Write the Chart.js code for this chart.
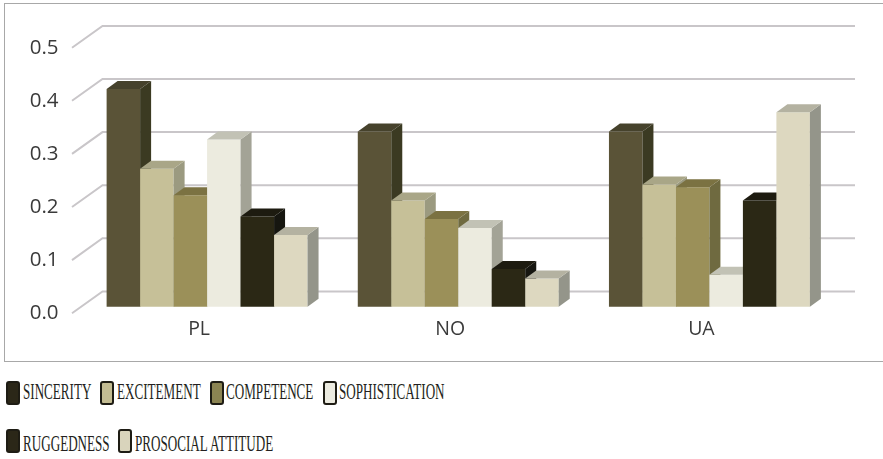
<!DOCTYPE html>
<html>
<head>
<meta charset="utf-8">
<script src="https://cdn.jsdelivr.net/npm/chart.js@4.4.1/dist/chart.umd.min.js"></script>
<style>
  html, body { margin: 0; padding: 0; background: #ffffff; }
  #wrap { position: relative; width: 883px; height: 459px; overflow: hidden; background: #fff; }
  #frame { position: absolute; left: 4px; top: 3px; width: 884px; height: 358.5px;
           border: 1.5px solid #a8a8a8; box-sizing: border-box; }
  #chart { position: absolute; left: 0; top: 0; }
  .lg-box { position: absolute; width: 14px; height: 24px; box-sizing: border-box;
            border: 2px solid #1e1c14; border-radius: 3px; }
  .lg-text { position: absolute; white-space: nowrap; font-family: "Liberation Serif", "Times New Roman", serif;
             font-size: 22.6px; line-height: 1; color: #231f20; transform: scaleX(0.58);
             transform-origin: 0 0; }
</style>
</head>
<body>
<div id="wrap">
  <div id="frame"></div>
  <canvas id="chart" width="883" height="365"></canvas>
  <div id="legend"></div>
</div>
<script>
// Country groups and brand-personality dimensions
const categories = ['PL', 'NO', 'UA'];
const seriesNames = ['SINCERITY', 'EXCITEMENT', 'COMPETENCE', 'SOPHISTICATION', 'RUGGEDNESS', 'PROSOCIAL ATTITUDE'];

const sincerity      = [0.41, 0.33, 0.33];
const excitement     = [0.26, 0.20, 0.23];
const competence     = [0.21, 0.165, 0.225];
const sophistication = [0.315, 0.148, 0.06];
const ruggedness     = [0.17, 0.071, 0.20];
const prosocial      = [0.135, 0.053, 0.366];

const yTicks = [0, 0.1, 0.2, 0.3, 0.4, 0.5];

// Face colours: front, top, side for each series, plus legend swatch
const frontColors  = ['#5a5337', '#c6c098', '#9b9059', '#ecebdf', '#2b2815', '#ddd8c0'];
const topColors    = ['#46422c', '#a9a687', '#7b7242', '#c2c2b5', '#1d1b10', '#b4b2a1'];
const sideColors   = ['#3b3a22', '#9b9a80', '#6f6a40', '#a3a396', '#161610', '#94958a'];
const legendColors = ['#2b2718', '#c3bc92', '#8b8452', '#ecebe0', '#2b2718', '#d9d4bc'];

const seriesValues = [sincerity, excitement, competence, sophistication, ruggedness, prosocial];

// Depth offset of the 3D bars and of the floor/back wall
const BAR_DX = 11, BAR_DY = -8;
const WALL_DX = 30.5, WALL_DY = -21.8;

const gridPlugin = {
  id: 'wallGrid',
  beforeDatasetsDraw(chart) {
    const { ctx, chartArea, scales } = chart;
    const y = scales.y;
    ctx.save();
    ctx.strokeStyle = '#c9c6c9';
    ctx.lineWidth = 2;
    yTicks.forEach(v => {
      const p = y.getPixelForValue(v);
      const fx = chartArea.left - 9.5, fy = p + 6.5;
      ctx.beginPath();
      ctx.moveTo(fx, fy);
      ctx.lineTo(fx + WALL_DX, fy + WALL_DY);
      ctx.lineTo(chartArea.right + 20, fy + WALL_DY);
      ctx.stroke();
    });
    ctx.restore();
  }
};

// Bars are painted left to right within each group so that every bar's
// front face covers the side face of the bar before it.
const bar3dPlugin = {
  id: 'bar3d',
  beforeDatasetDraw() { return false; },
  afterDatasetsDraw(chart) {
    const { ctx } = chart;
    ctx.save();
    chart.data.datasets.forEach((ds, i) => {
      const meta = chart.getDatasetMeta(i);
      meta.data.forEach(el => {
        const { x, y, base, width } = el.getProps(['x', 'y', 'base', 'width'], true);
        const l = x - width / 2, r = x + width / 2;
        el.draw(ctx, chart.chartArea);
        // side face
        ctx.fillStyle = sideColors[i];
        ctx.beginPath();
        ctx.moveTo(r, y);
        ctx.lineTo(r + BAR_DX, y + BAR_DY);
        ctx.lineTo(r + BAR_DX, base + BAR_DY);
        ctx.lineTo(r, base);
        ctx.closePath();
        ctx.fill();
        // top face
        ctx.fillStyle = topColors[i];
        ctx.beginPath();
        ctx.moveTo(l, y);
        ctx.lineTo(l + BAR_DX, y + BAR_DY);
        ctx.lineTo(r + BAR_DX, y + BAR_DY);
        ctx.lineTo(r, y);
        ctx.closePath();
        ctx.fill();
      });
    });
    ctx.restore();
  }
};

const tickFont = { family: '"Open Sans", sans-serif', size: 20.5 };

const chart = new Chart(document.getElementById('chart'), {
  type: 'bar',
  data: {
    labels: categories,
    datasets: seriesValues.map((vals, i) => ({
      label: seriesNames[i],
      data: vals,
      backgroundColor: frontColors[i],
      borderWidth: 0,
      barPercentage: 1,
      categoryPercentage: 0.8
    }))
  },
  options: {
    responsive: false,
    animation: false,
    devicePixelRatio: 1,
    layout: { padding: { top: 41.2, right: 48, bottom: 0, left: 0 } },
    plugins: { legend: { display: false }, tooltip: { enabled: false } },
    scales: {
      x: {
        grid: { display: false, drawTicks: false },
        border: { display: false },
        ticks: { font: { family: '"Open Sans", sans-serif', size: 19.5 }, color: '#3a3a3a', padding: 11, labelOffset: -8 },
        afterFit(scale) { scale.height = 58.3; }
      },
      y: {
        min: 0, max: 0.5,
        grid: { display: false, drawTicks: false },
        border: { display: false },
        ticks: {
          stepSize: 0.1, font: tickFont, color: '#3a3a3a', padding: 23, labelOffset: 6.6,
          callback: v => Number(v).toFixed(1)
        },
        afterFit(scale) { scale.width = 81.5; }
      }
    }
  },
  plugins: [gridPlugin, bar3dPlugin]
});

// Legend built from the chart's datasets, two rows
(function buildLegend() {
  const host = document.getElementById('legend');
  const rows = [[0, 1, 2, 3], [4, 5]];
  const rowBoxTop = [380.7, 429];
  const rowTextTop = [381.3, 433.3];
  rows.forEach((row, ri) => {
    let cx = 6;
    row.forEach(di => {
      const ds = chart.data.datasets[di];
      const box = document.createElement('div');
      box.className = 'lg-box';
      box.style.left = cx + 'px';
      box.style.top = rowBoxTop[ri] + 'px';
      box.style.background = legendColors[di];
      host.appendChild(box);
      const t = document.createElement('span');
      t.className = 'lg-text';
      t.textContent = ds.label;
      t.style.left = (cx + 16.7) + 'px';
      t.style.top = rowTextTop[ri] + 'px';
      host.appendChild(t);
      const w = t.getBoundingClientRect().width;
      cx = cx + 16.7 + w + 9;
    });
  });
})();
</script>
</body>
</html>
